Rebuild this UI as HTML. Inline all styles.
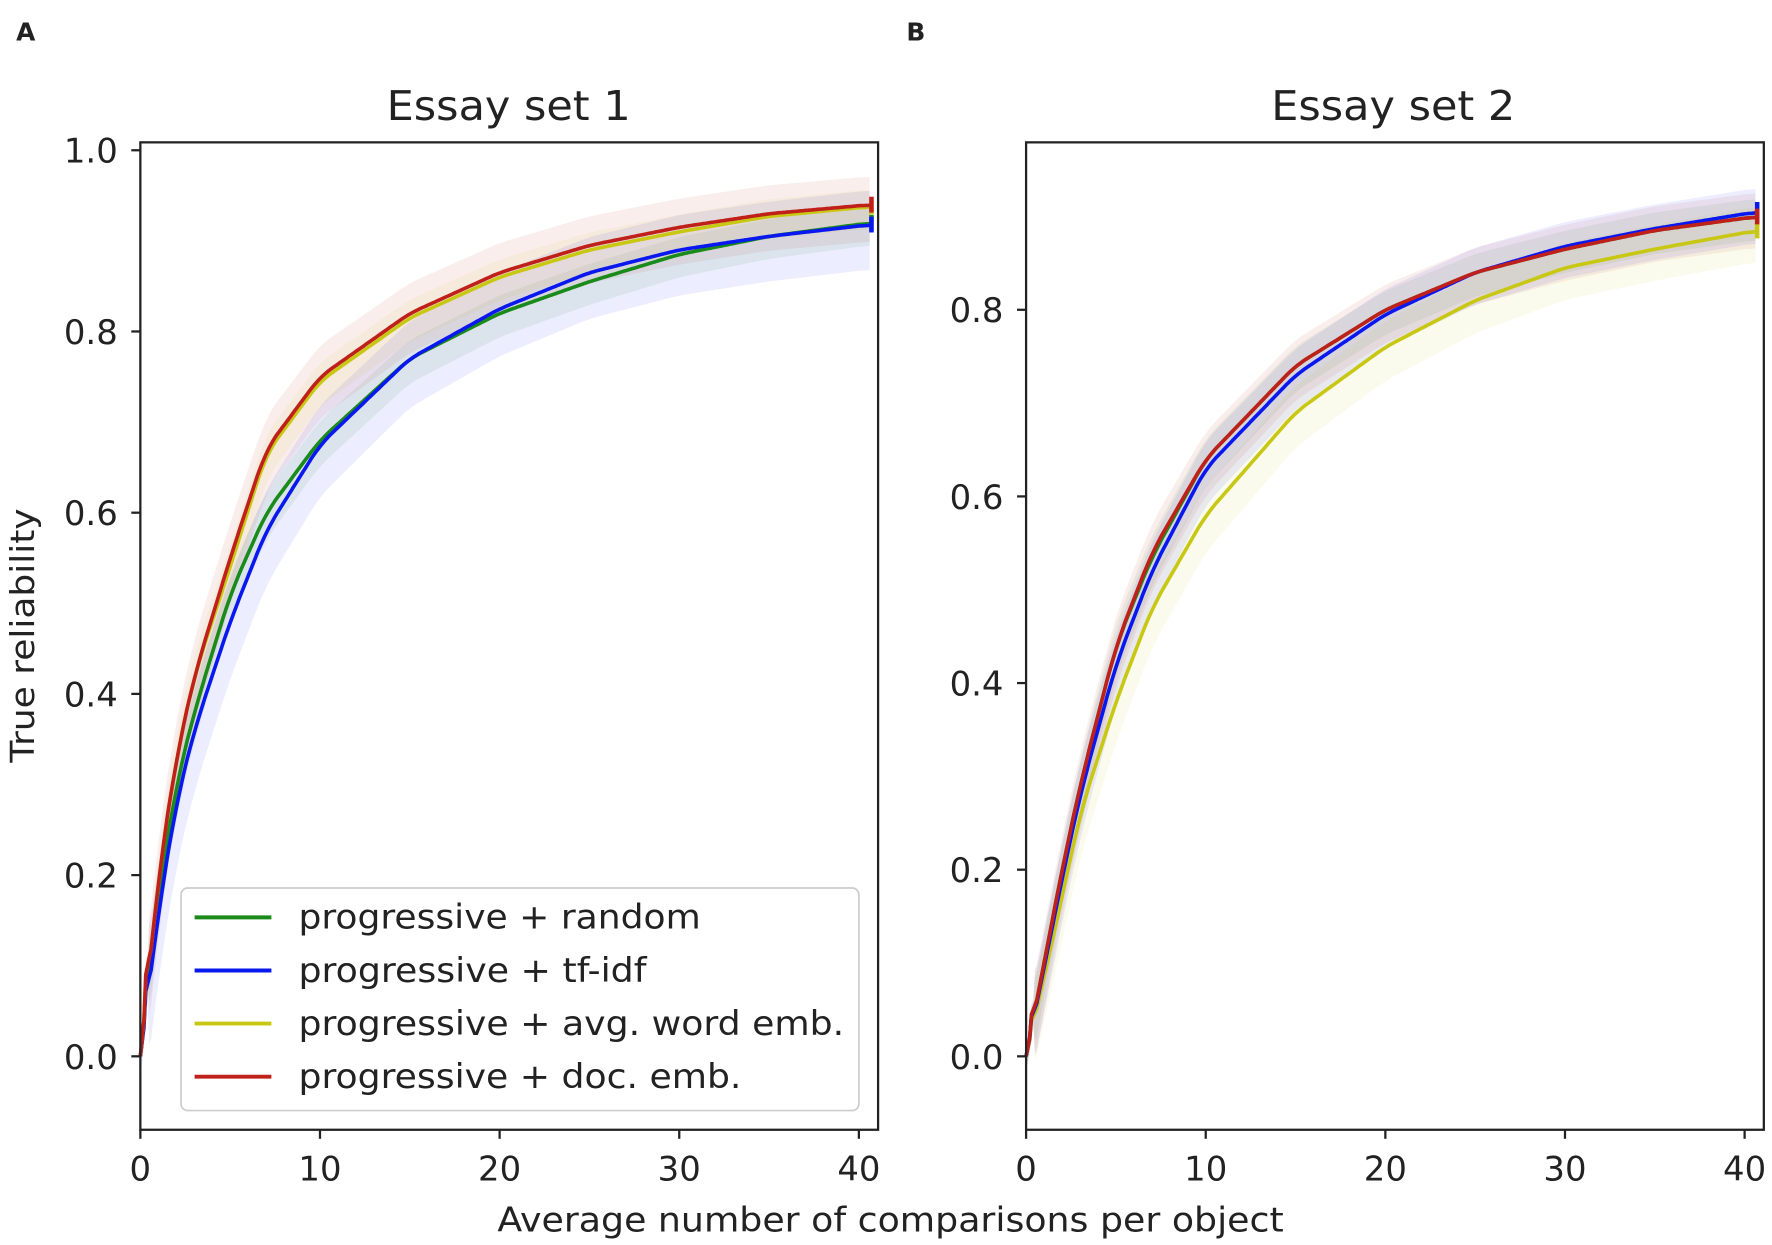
<!DOCTYPE html>
<html><head><meta charset="utf-8"><style>
html,body{margin:0;padding:0;background:#fff}
svg{display:block}
text{font-family:"DejaVu Sans","Liberation Sans",sans-serif;fill:#222}
</style></head><body>
<svg id="s" width="1772" height="1245" viewBox="0 0 1568 1102" xmlns="http://www.w3.org/2000/svg">
<text x="14" y="36" font-size="22" font-weight="bold" font-family="Liberation Sans">A</text>
<text x="802" y="36" font-size="22" font-weight="bold" font-family="Liberation Sans">B</text>
<text x="342" y="106" font-size="36" textLength="216" lengthAdjust="spacingAndGlyphs">Essay set 1</text>
<text x="1125" y="106" font-size="36" textLength="216" lengthAdjust="spacingAndGlyphs">Essay set 2</text>
<text transform="translate(30,675) rotate(-90)" font-size="29" textLength="225" lengthAdjust="spacingAndGlyphs">True reliability</text>
<text x="440" y="1090" font-size="30" textLength="696" lengthAdjust="spacingAndGlyphs">Average number of comparisons per object</text>
<g id="A"></g><g id="B"></g>
</svg>
<script>
const NS="http://www.w3.org/2000/svg";
function el(p,t,a){const e=document.createElementNS(NS,t);for(const k in a)e.setAttribute(k,a[k]);p.appendChild(e);return e;}
function interp(pts,x){for(let i=0;i<pts.length-1;i++){const[a,b]=pts[i],[c,d]=pts[i+1];if(x<=c){const t=(x-a)/(c-a);return b+(d-b)*t;}}return pts[pts.length-1][1];}
function smooth(pts){const out=[];for(let x=0;x<=40.7;x+=0.1){out.push([x,interp(pts,x)]);}
const r=[];for(let i=0;i<out.length;i++){let s=0,n=0;for(let j=Math.max(0,i-6);j<=Math.min(out.length-1,i+6);j++){s+=out[j][1];n++;}r.push([out[i][0],i<3?out[i][1]:s/n]);}return r;}
function panel(g,L,yZero,yPerUnit,series,ticksY){
 const X=x=>L+x*15.9, Y=y=>yZero-y*yPerUnit;
 series.forEach(s=>{const p=smooth(s.pts);let d="M"+p.map(q=>X(q[0])+","+Y(q[1]+s.bw*(q[0]<0.5?0.3:1)*(1-q[1]*0.4))).join("L");
  for(let i=p.length-1;i>=0;i--){const q=p[i];d+="L"+X(q[0])+","+Y(q[1]-s.bw*(q[0]<0.5?0.3:1)*(1-q[1]*0.4)*1.3);}
  el(g,"path",{d:d+"Z",fill:s.c,"fill-opacity":0.08,stroke:"none"});});
 series.forEach(s=>{const p=smooth(s.pts);el(g,"path",{d:"M"+p.map(q=>X(q[0]).toFixed(1)+","+Y(q[1]).toFixed(1)).join("L"),fill:"none",stroke:s.c,"stroke-width":3.2});
  el(g,"line",{x1:X(40.7),x2:X(40.7),y1:Y(s.end)-7,y2:Y(s.end)+7,stroke:s.c,"stroke-width":4});});
 el(g,"rect",{x:L,y:126,width:653,height:874,fill:"none",stroke:"#222","stroke-width":2});
 [0,10,20,30,40].forEach(v=>{el(g,"line",{x1:X(v),x2:X(v),y1:1000,y2:1008,stroke:"#222","stroke-width":2});
  const t=el(g,"text",{x:X(v),y:1045,"font-size":30,"text-anchor":"middle"});t.textContent=v;});
 ticksY.forEach(v=>{el(g,"line",{x1:L-8,x2:L,y1:Y(v),y2:Y(v),stroke:"#222","stroke-width":2});
  const t=el(g,"text",{x:L-20,y:Y(v)+11,"font-size":30,"text-anchor":"end"});t.textContent=v.toFixed(1);});
}
const G="#1a8a1a",Bc="#0a18f0",Yc="#c8c814",R="#c0201a";
panel(document.getElementById("A"),124,935,802,[
 {c:G,bw:0.03,end:0.92,pts:[[0,0],[1,0.18],[2,0.3],[3,0.38],[5,0.51],[7,0.6],[10,0.68],[15,0.77],[20,0.82],[25,0.855],[30,0.885],[35,0.905],[40.7,0.92]]},
 {c:Bc,bw:0.06,end:0.918,pts:[[0,0],[1,0.16],[2,0.28],[3,0.36],[5,0.48],[7,0.58],[10,0.675],[15,0.77],[20,0.825],[25,0.865],[30,0.89],[35,0.905],[40.7,0.918]]},
 {c:Yc,bw:0.03,end:0.938,pts:[[0,0],[1,0.2],[2,0.33],[3,0.42],[5,0.54],[7,0.665],[10,0.745],[15,0.815],[20,0.86],[25,0.89],[30,0.91],[35,0.927],[40.7,0.938]]},
 {c:R,bw:0.05,end:0.94,pts:[[0,0],[1,0.2],[2,0.33],[3,0.42],[5,0.55],[7,0.67],[10,0.75],[15,0.82],[20,0.865],[25,0.895],[30,0.915],[35,0.93],[40.7,0.94]]}
],[0,0.2,0.4,0.6,0.8,1.0]);
panel(document.getElementById("B"),908,935,826,[
 {c:G,bw:0.03,end:0.9,pts:[[0,0],[2,0.2],[3,0.29],[5,0.44],[7,0.535],[10,0.64],[15,0.74],[20,0.8],[25,0.84],[30,0.865],[35,0.885],[40.7,0.9]]},
 {c:Yc,bw:0.04,end:0.885,pts:[[0,0],[2,0.17],[3,0.26],[5,0.38],[7,0.48],[10,0.58],[15,0.69],[20,0.76],[25,0.81],[30,0.845],[35,0.865],[40.7,0.885]]},
 {c:Bc,bw:0.04,end:0.907,pts:[[0,0],[2,0.19],[3,0.28],[5,0.42],[7,0.52],[10,0.63],[15,0.73],[20,0.795],[25,0.84],[30,0.868],[35,0.887],[40.7,0.905]]},
 {c:R,bw:0.04,end:0.9,pts:[[0,0],[2,0.2],[3,0.29],[5,0.44],[7,0.54],[10,0.64],[15,0.74],[20,0.8],[25,0.84],[30,0.865],[35,0.885],[40.7,0.9]]}
],[0,0.2,0.4,0.6,0.8]);
const A=document.getElementById("A");
el(A,"rect",{x:160,y:786,width:600,height:197,rx:6,fill:"#fff","fill-opacity":0.85,stroke:"#ccc","stroke-width":1.5});
[["progressive + random",G,356],["progressive + tf-idf",Bc,308],["progressive + avg. word emb.",Yc,483],["progressive + doc. emb.",R,392]].forEach((e,i)=>{
 const y=812+i*47;el(A,"line",{x1:172,x2:240,y1:y,y2:y,stroke:e[1],"stroke-width":3.5});
 const t=el(A,"text",{x:264,y:y+10,"font-size":30,textLength:e[2],lengthAdjust:"spacingAndGlyphs"});t.textContent=e[0];});
</script>
</body></html>
